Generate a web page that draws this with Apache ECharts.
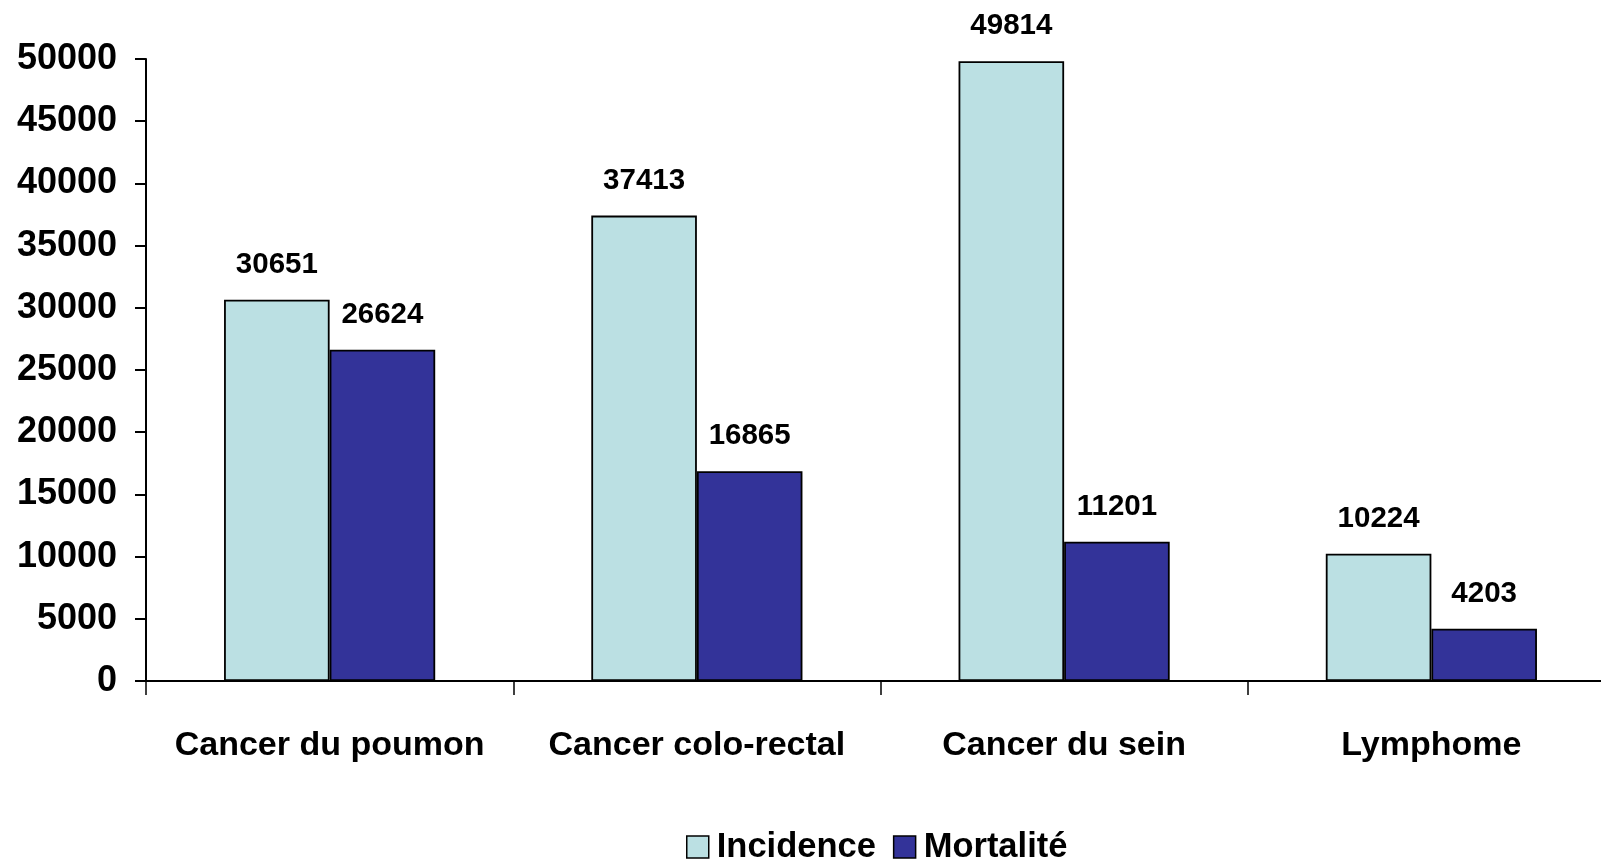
<!DOCTYPE html>
<html>
<head>
<meta charset="utf-8">
<script src="https://cdn.jsdelivr.net/npm/echarts@6/dist/echarts.min.js"></script>
<style>
  html, body { margin: 0; padding: 0; background: #ffffff; }
  #chart { width: 1601px; height: 860px; }
</style>
</head>
<body>
<div id="chart"></div>
<script>
// Cancer types and yearly counts
const categories = ['Cancer du poumon', 'Cancer colo-rectal', 'Cancer du sein', 'Lymphome'];
const incidence = [30651, 37413, 49814, 10224];
const mortalite = [26624, 16865, 11201, 4203];
const seriesNames = ['Incidence', 'Mortalité'];

const FONT = '"Liberation Sans", Arial, sans-serif';

const chart = echarts.init(document.getElementById('chart'), null, { renderer: 'canvas' });

const valueLabel = {
  show: true,
  position: 'top',
  distance: 20,
  formatter: '{c}',
  fontFamily: FONT,
  fontWeight: 'bold',
  fontSize: 29.5,
  color: '#000'
};

chart.setOption({
  animation: false,
  backgroundColor: '#ffffff',
  grid: {
    left: 146, top: 59, bottom: 179, width: 1469,
    containLabel: false,
    outerBoundsMode: 'none'
  },
  legend: {
    data: seriesNames,
    top: 822,
    left: 681,
    itemWidth: 22,
    itemHeight: 22,
    itemGap: 17,
    icon: 'rect',
    itemStyle: { borderColor: '#000', borderWidth: 1.5 },
    textStyle: {
      fontFamily: FONT, fontWeight: 'bold', fontSize: 34.5, lineHeight: 40,
      color: '#000', padding: [0, 0, 0, 3]
    }
  },
  xAxis: {
    type: 'category',
    data: categories,
    boundaryGap: true,
    axisLine: { show: true, lineStyle: { color: '#000', width: 2 } },
    axisTick: { show: true, interval: 0, length: 14, lineStyle: { color: '#000', width: 1.5 } },
    axisLabel: {
      interval: 0,
      margin: 48,
      fontFamily: FONT,
      fontWeight: 'bold',
      fontSize: 34,
      color: '#000'
    },
    splitLine: { show: false }
  },
  yAxis: {
    type: 'value',
    min: 0,
    max: 50000,
    interval: 5000,
    axisLine: { show: true, lineStyle: { color: '#000', width: 2 } },
    axisTick: { show: true, length: 11, lineStyle: { color: '#000', width: 2 } },
    axisLabel: {
      margin: 29,
      formatter: v => String(v),
      fontFamily: FONT,
      fontWeight: 'bold',
      fontSize: 36,
      color: '#000'
    },
    splitLine: { show: false }
  },
  series: [
    {
      name: seriesNames[0],
      type: 'bar',
      data: incidence,
      barGap: '0%',
      barCategoryGap: '42.5%',
      itemStyle: { color: '#bbe0e3', borderColor: '#000', borderWidth: 1.8 },
      label: valueLabel
    },
    {
      name: seriesNames[1],
      type: 'bar',
      data: mortalite,
      barGap: '0%',
      barCategoryGap: '42.5%',
      itemStyle: { color: '#333399', borderColor: '#000', borderWidth: 1.8 },
      label: valueLabel
    }
  ]
});
</script>
</body>
</html>
